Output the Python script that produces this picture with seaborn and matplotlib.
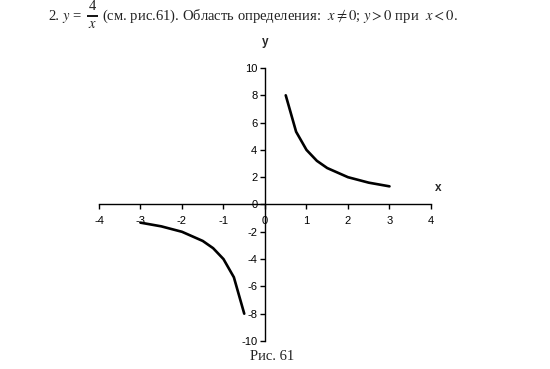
import matplotlib
matplotlib.use("Agg")
import matplotlib.pyplot as plt
import seaborn as sns
import pandas as pd

# data (y = 4/x)
x_pos = [0.5, 0.75, 1.0, 1.25, 1.5, 2.0, 2.5, 3.0]
y_pos = [8.0, 5.33, 4.0, 3.2, 2.67, 2.0, 1.6, 1.33]
x_neg = [-3.0, -2.5, -2.0, -1.5, -1.25, -1.0, -0.75, -0.5]
y_neg = [-1.33, -1.6, -2.0, -2.67, -3.2, -4.0, -5.33, -8.0]
x_ticks = [-4, -3, -2, -1, 0, 1, 2, 3, 4]
y_ticks = [-10, -8, -6, -4, -2, 0, 2, 4, 6, 8, 10]

sns.set_theme(style="white")
plt.rcParams['font.family'] = ['Liberation Sans', 'DejaVu Sans']
plt.rcParams['mathtext.fontset'] = 'stix'

W, H = 550, 369
fig = plt.figure(figsize=(5.5, 3.69), dpi=100)
ax = fig.add_axes([0.18, 0.0759, 0.6036, 0.7398])

df_pos = pd.DataFrame({"x": x_pos, "y": y_pos})
df_neg = pd.DataFrame({"x": x_neg, "y": y_neg})
sns.lineplot(data=df_pos, x="x", y="y", ax=ax, color="black", lw=1.9, sort=False)
sns.lineplot(data=df_neg, x="x", y="y", ax=ax, color="black", lw=1.9, sort=False)

ax.set_xlim(-4, 4)
ax.set_ylim(-10, 10)
ax.set_xticks(x_ticks)
ax.set_yticks(y_ticks)
ax.set_xticklabels([str(v) for v in x_ticks])
ax.set_yticklabels([str(v) for v in y_ticks])
ax.set_xlabel("")
ax.set_ylabel("")

for s in ["top", "right"]:
    ax.spines[s].set_visible(False)
ax.spines["left"].set_position(("data", 0))
ax.spines["bottom"].set_position(("data", 0))
for s in ["left", "bottom"]:
    ax.spines[s].set_color("black")
    ax.spines[s].set_linewidth(1.0)

ax.tick_params(axis="both", which="major", direction="out", length=3.5, width=1.0,
               color="black", labelsize=8, labelcolor="black", pad=2)
ax.xaxis.set_ticks_position("bottom")
ax.yaxis.set_ticks_position("left")
ax.tick_params(axis="x", pad=5)

# axis names
ax.text(0, 11.5, "y", ha="center", va="bottom", fontsize=8.5, fontweight="bold")
ax.text(4.1, 0.8, "x", ha="left", va="bottom", fontsize=8.5, fontweight="bold")

# header (built from pieces, positions in pixels)
serif = ['Liberation Serif', 'DejaVu Serif']
tc = "#222222"
def ft(px, py, s, **kw):
    fig.text(px / W, 1 - py / H, s, color=tc, family=serif, **kw)

ft(48, 20, "2.", ha="left", va="baseline", fontsize=10.5)
ft(62, 20, r"$y$ =", ha="left", va="baseline", fontsize=10.5)
ft(92, 10, "4", ha="center", va="baseline", fontsize=10.5)
ft(92, 28, r"$x$", ha="center", va="baseline", fontsize=10.5)
ax.plot([86.5 / W, 97.5 / W], [1 - 15.5 / H, 1 - 15.5 / H], transform=fig.transFigure,
        clip_on=False, color="black", lw=1.3, solid_capstyle="butt")
ft(102, 20, r"(см. рис.61). Область определения:  $x\neq0$; $y>0$ при  $x<0$.",
   ha="left", va="baseline", fontsize=10.5)

fig.text(0.495, 0.035, "Рис. 61", ha="center", va="center", fontsize=10.5,
         family=serif, color=tc)

fig.savefig("out.png", dpi=100, facecolor="white")
